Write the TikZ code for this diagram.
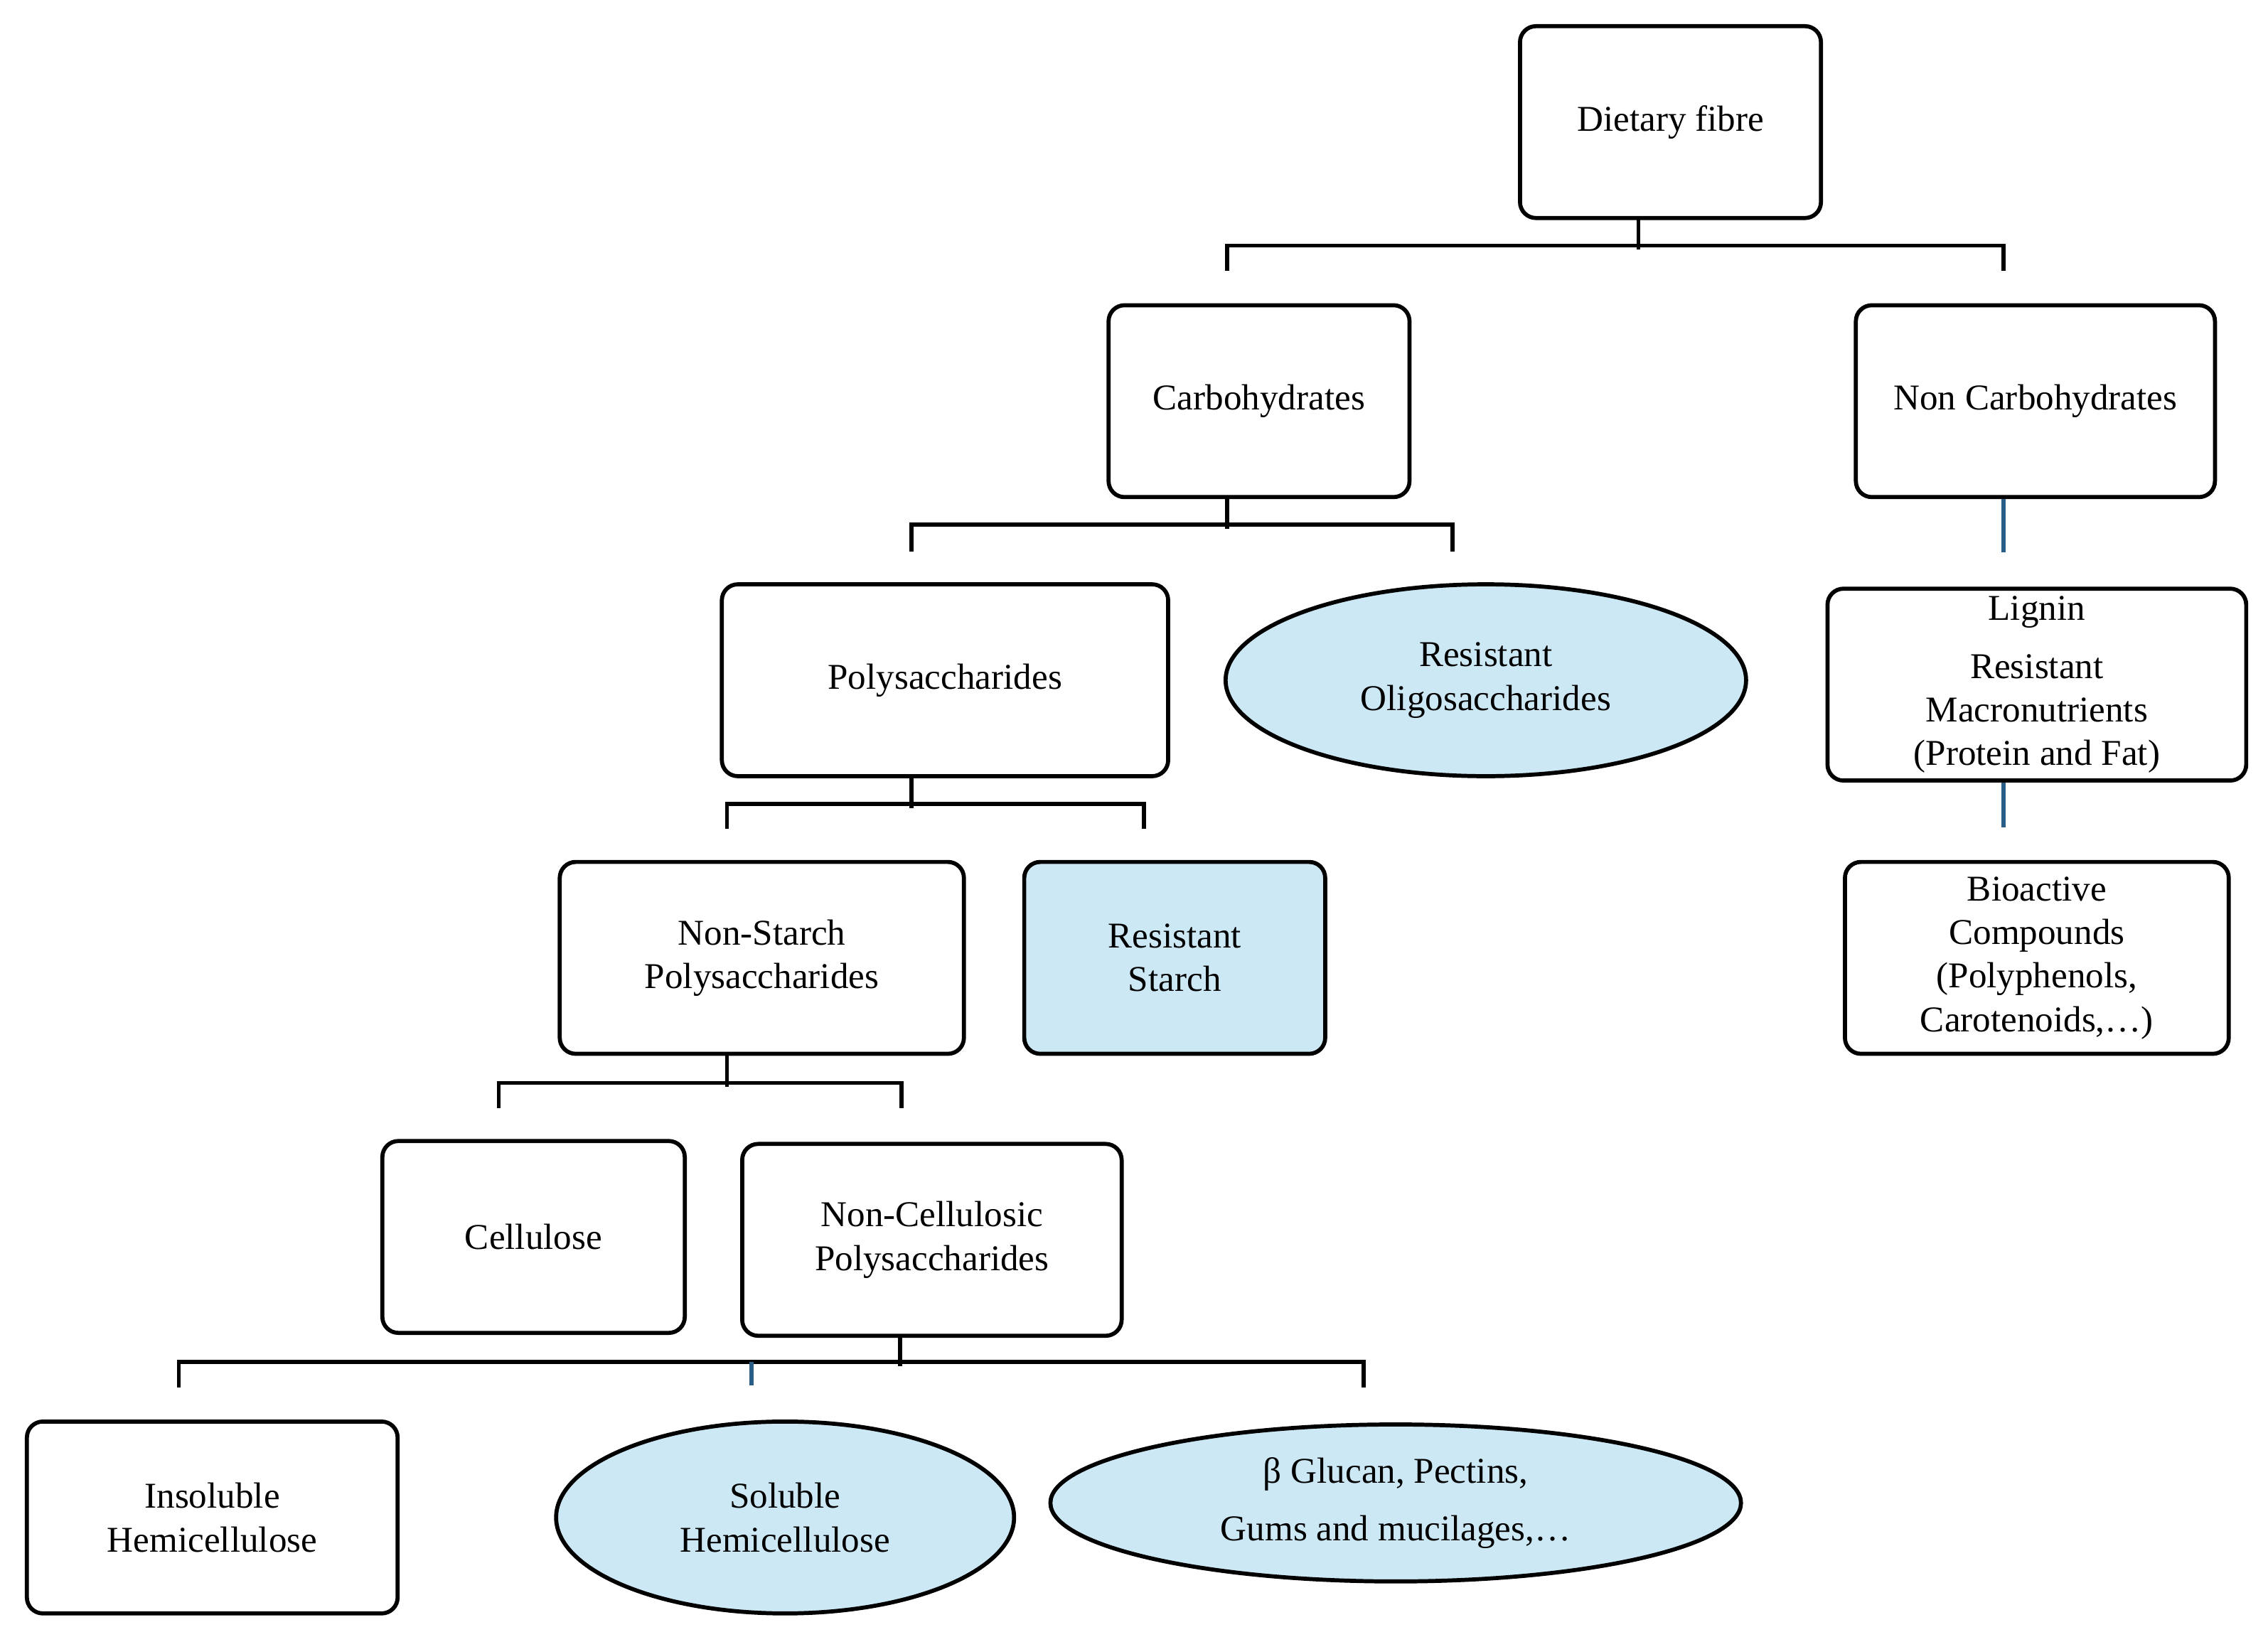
\documentclass[tikz,border=0pt]{standalone}
\usepackage{fontspec}
\setmainfont{Liberation Serif}
\usetikzlibrary{shapes.geometric}
\definecolor{lb}{HTML}{CDE8F5}
\definecolor{tick}{HTML}{2A5E86}
\begin{document}
\begin{tikzpicture}[x=1pt,y=-1pt,
  box/.style={draw,line width=2.8pt,rounded corners=11pt,align=center,inner sep=0pt,font=\fontsize{25}{30}\selectfont},
  ell/.style={draw,ellipse,line width=2.8pt,fill=lb,align=center,inner sep=0pt,font=\fontsize{25}{30}\selectfont},
  con/.style={line width=2.8pt,line cap=rect},
  blue/.style={line width=2.8pt,draw=tick}]
\useasboundingbox (0,0) rectangle (1560,1126);
\node[box,minimum width=207pt,minimum height=132pt] (df) at (1149,84) {Dietary fibre};
\node[box,minimum width=207pt,minimum height=132pt] (ch) at (866,276) {Carbohydrates};
\node[box,minimum width=247pt,minimum height=132pt] (nc) at (1400,276) {Non Carbohydrates};
\node[box,minimum width=307pt,minimum height=132pt] (ps) at (650,468) {Polysaccharides};
\node[ell,minimum width=358pt,minimum height=132pt] (ro) at (1022,468) {Resistant\\Oligosaccharides};
\node[box,minimum width=288pt,minimum height=132pt] (lg) at (1401,471) {Lignin\\[10pt]Resistant\\Macronutrients\\(Protein and Fat)};
\node[box,minimum width=278pt,minimum height=132pt] (ns) at (524,659) {Non-Starch\\Polysaccharides};
\node[box,minimum width=207pt,minimum height=132pt,fill=lb] (rs) at (808,659) {Resistant\\Starch};
\node[box,minimum width=264pt,minimum height=132pt] (bc) at (1401,659) {Bioactive\\Compounds\\(Polyphenols,\\Carotenoids,\dots)};
\node[box,minimum width=208pt,minimum height=132pt] (ce) at (367,851) {Cellulose};
\node[box,minimum width=261pt,minimum height=132pt] (ncp) at (641,853) {Non-Cellulosic\\Polysaccharides};
\node[box,minimum width=255pt,minimum height=132pt] (ih) at (146,1044) {Insoluble\\Hemicellulose};
\node[ell,minimum width=315pt,minimum height=132pt] (sh) at (540,1044) {Soluble\\Hemicellulose};
\node[ell,minimum width=475pt,minimum height=108pt] (bg) at (960,1034) {β Glucan, Pectins,\\[10pt]Gums and mucilages,\dots};
% connectors
\draw[con] ([xshift=-22pt]df.south) -- ++(0,19) coordinate (a1);
\draw[con] (844,185) -- (844,169) -- (1378,169) -- (1378,185);
\draw[con] ([xshift=-22pt]ch.south) -- ++(0,19);
\draw[con] (627,378) -- (627,361) -- (999,361) -- (999,378);
\draw[blue] ([xshift=-22pt]nc.south) -- ([xshift=-22pt]nc.south |- 0,380);
\draw[con] ([xshift=-23pt]ps.south) -- ++(0,19);
\draw[con] (500,569) -- (500,553) -- (787,553) -- (787,569);
\draw[blue] ([xshift=-23pt]lg.south) -- ([xshift=-23pt]lg.south |- 0,569);
\draw[con] ([xshift=-24pt]ns.south) -- ++(0,20);
\draw[con] (343,761) -- (343,745) -- (620,745) -- (620,761);
\draw[con] ([xshift=-22pt]ncp.south) -- ++(0,18);
\draw[con] (123,953) -- (123,937) -- (938,937) -- (938,953);
\draw[blue] (517,937) -- (517,953);
\end{tikzpicture}
\end{document}
